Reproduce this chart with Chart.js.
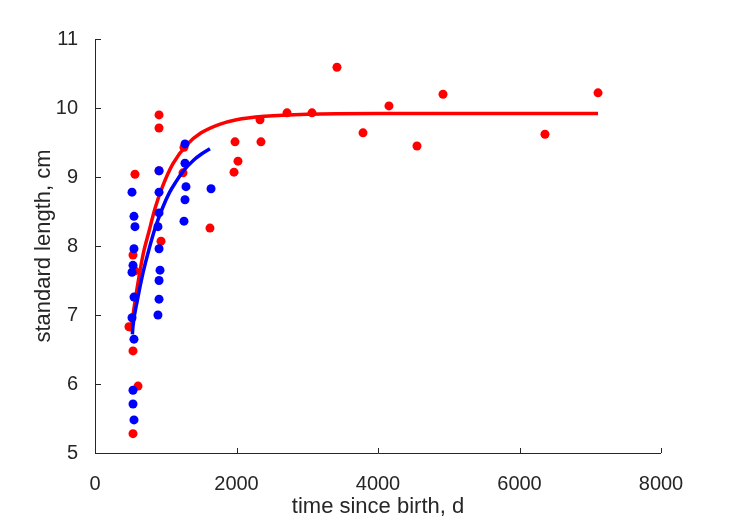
<!DOCTYPE html>
<html>
<head>
<meta charset="utf-8">
<script src="https://cdn.jsdelivr.net/npm/chart.js@4/dist/chart.umd.min.js"></script>
<style>
  html, body { margin: 0; padding: 0; background: #fff; }
  #wrap { width: 729px; height: 521px; }
</style>
</head>
<body>
<div id="wrap"><canvas id="myChart" width="729" height="521"></canvas></div>
<script>
// observed sizes, red group
const redDays = [480, 537, 608, 537, 537, 565, 565, 905, 905, 905, 933, 1244, 1258, 1625,
  1965, 1979, 2021, 2332, 2346, 2714, 3067, 3420, 3788, 4155, 4551, 4919, 6360, 7110]
const redLength = [6.83, 6.48, 5.97, 5.28, 7.87, 7.64, 9.04, 9.90, 9.71, 9.09, 8.07, 9.06, 9.43, 8.26,
  9.07, 9.51, 9.23, 9.83, 9.51, 9.93, 9.93, 10.59, 9.64, 10.03, 9.45, 10.20, 9.62, 10.22]

// observed sizes, blue group
const blueDays = [523, 551, 565, 551, 537, 523, 551, 523, 551, 537, 537, 551,
  905, 905, 905, 890, 905, 919, 905, 905, 890, 1272, 1272, 1286, 1272, 1258, 1640]
const blueLength = [8.78, 8.43, 8.28, 7.96, 7.72, 7.62, 7.26, 6.96, 6.65, 5.91, 5.71, 5.48,
  9.09, 8.78, 8.48, 8.28, 7.96, 7.65, 7.50, 7.23, 7.00, 9.48, 9.20, 8.86, 8.67, 8.36, 8.83]

// fitted growth curves
const redFitDays = [505, 540, 600, 680, 760, 850, 950, 1100, 1300, 1500, 1750, 2000, 2400, 3000, 4000, 7110]
const redFitLength = [6.76, 7.02, 7.42, 7.88, 8.20, 8.55, 8.85, 9.19, 9.47, 9.64, 9.76, 9.83, 9.88, 9.91, 9.92, 9.92]
const blueFitDays = [528, 537, 600, 678, 760, 850, 950, 1050, 1150, 1250, 1400, 1500, 1625]
const blueFitLength = [6.72, 6.84, 7.22, 7.61, 7.94, 8.26, 8.54, 8.77, 8.94, 9.09, 9.25, 9.33, 9.41]

const xTicks = [0, 2000, 4000, 6000, 8000]
const yTicks = [5, 6, 7, 8, 9, 10, 11]

const ink = '#262626'
const pts = (xs, ys) => xs.map((x, i) => ({ x, y: ys[i] }))

// matlab style axes: only left + bottom, ticks pointing in
const axesLines = {
  id: 'axesLines',
  afterDraw(chart) {
    const { ctx, chartArea: a, scales: { x, y } } = chart
    ctx.save()
    ctx.strokeStyle = ink
    ctx.lineWidth = 1
    ctx.beginPath()
    ctx.moveTo(a.left + 0.5, a.top)
    ctx.lineTo(a.left + 0.5, a.bottom + 0.5)
    ctx.lineTo(a.right, a.bottom + 0.5)
    x.ticks.forEach(t => {
      const px = Math.round(x.getPixelForValue(t.value)) + 0.5
      ctx.moveTo(px, a.bottom)
      ctx.lineTo(px, a.bottom - 5)
    })
    y.ticks.forEach(t => {
      const py = Math.round(y.getPixelForValue(t.value)) + 0.5
      ctx.moveTo(a.left, py)
      ctx.lineTo(a.left + 6, py)
    })
    ctx.stroke()
    ctx.restore()
  }
}

const ctx = document.getElementById('myChart')
const myChart = new Chart(ctx, {
  type: 'scatter',
  data: {
    datasets: [
      {
        type: 'line', data: pts(blueFitDays, blueFitLength), order: 0,
        borderColor: '#0000ff', borderWidth: 3.5, pointRadius: 0,
        cubicInterpolationMode: 'monotone', fill: false
      },
      {
        data: pts(blueDays, blueLength), order: 1,
        backgroundColor: '#0000ff', pointRadius: 4.5, pointBorderWidth: 0
      },
      {
        type: 'line', data: pts(redFitDays, redFitLength), order: 2,
        borderColor: '#ff0000', borderWidth: 3.5, pointRadius: 0,
        cubicInterpolationMode: 'monotone', fill: false
      },
      {
        data: pts(redDays, redLength), order: 3,
        backgroundColor: '#ff0000', pointRadius: 4.5, pointBorderWidth: 0
      }
    ]
  },
  options: {
    responsive: false,
    animation: false,
    layout: { padding: { left: 0, right: 68, top: 39, bottom: 0 } },
    plugins: { legend: { display: false }, tooltip: { enabled: false } },
    scales: {
      x: {
        type: 'linear', min: 0, max: 8000,
        afterBuildTicks: s => { s.ticks = xTicks.map(v => ({ value: v })) },
        afterFit: s => { s.height = 68 },
        grid: { display: false },
        border: { display: false },
        ticks: {
          color: ink, padding: 11, callback: v => String(v),
          font: { family: 'Liberation Sans', size: 20 }
        },
        title: {
          display: true, text: 'time since birth, d', color: ink,
          padding: { top: 0, bottom: 1 },
          font: { family: 'Liberation Sans', size: 22 }
        }
      },
      y: {
        type: 'linear', min: 5, max: 11,
        afterBuildTicks: s => { s.ticks = yTicks.map(v => ({ value: v })) },
        afterFit: s => { s.width = 95 },
        grid: { display: false },
        border: { display: false },
        ticks: {
          color: ink, padding: 9, callback: v => String(v),
          font: { family: 'Liberation Sans', size: 20 }
        },
        title: {
          display: true, text: 'standard length, cm', color: ink,
          padding: { top: 31, bottom: 0 },
          font: { family: 'Liberation Sans', size: 22 }
        }
      }
    }
  },
  plugins: [axesLines]
})
</script>
</body>
</html>
